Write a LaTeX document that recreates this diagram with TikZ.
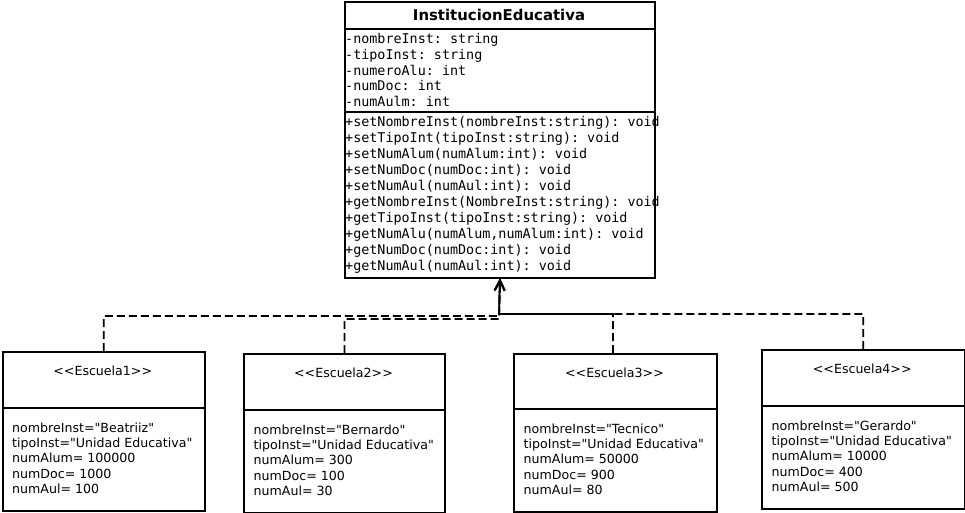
\documentclass[tikz,border=0pt]{standalone}
\usepackage{fontspec}
\setmainfont{DejaVu Sans}[Ligatures=TeXOff]
\setmonofont{DejaVu Sans Mono}[Ligatures=TeXOff]
\usetikzlibrary{arrows.meta}
\newcommand{\escuelabox}[8]{%
  % #1 name, #2 left x, #3 top y, #4 width, #5 height, #6 divider y, #7 stereotype, #8 lines
  \node[umlbox, minimum width=#4pt, minimum height=#5pt] (#1) at (#2,#3) {};
  \draw[divider] (#1.west |- 0,#6) -- (#1.east |- 0,#6);
  \node[stereo] (#1st) at ({#2+#4/2},{#3+24.5}) {#7};
  \foreach \t [count=\i] in {#8}
    \node[objtext] (#1l\i) at ({#2+10.5},{#6+24+15.4*(\i-1)}) {\t};
}
\begin{document}
\begin{tikzpicture}[x=1pt,y=-1pt,
  umlbox/.style={draw, line width=2pt, inner sep=0pt, anchor=north west, fill=white},
  divider/.style={line width=2pt},
  titletext/.style={font=\fontsize{14.9}{16}\selectfont\bfseries, anchor=base, inner sep=0pt},
  monotext/.style={font=\ttfamily\fontsize{13.4}{16}\selectfont, anchor=base west, inner sep=0pt},
  stereo/.style={font=\fontsize{12.6}{15}\selectfont, anchor=base, inner sep=0pt},
  objtext/.style={font=\fontsize{12.6}{15}\selectfont, anchor=base west, inner sep=0pt},
  dep/.style={line width=1.8pt, dash pattern=on 8pt off 4pt, -{Straight Barb[length=10pt,width=10pt,line width=1.8pt]}}
]
\useasboundingbox (0,0) rectangle (965,513);
\fill[white] (0,0) rectangle (965,513);

% main class
\node[umlbox, minimum width=310pt, minimum height=275pt] (main) at (344,1.5) {};
\draw[divider] (main.west |- 0,29) -- (main.east |- 0,29);
\draw[divider] (main.west |- 0,112.5) -- (main.east |- 0,112.5);
\node[titletext] (title) at (499,21) {InstitucionEducativa};
\foreach \t [count=\i] in {-nombreInst: string, -tipoInst: string, -numeroAlu: int, -numDoc: int, -numAulm: int}
  \node[monotext] (attr\i) at (345,{43.3+15.9*(\i-1)}) {\t};
\foreach \t [count=\i] in {+setNombreInst(nombreInst:string): void,
  +setTipoInt(tipoInst:string): void,
  +setNumAlum(numAlum:int): void,
  +setNumDoc(numDoc:int): void,
  +setNumAul(numAul:int): void,
  +getNombreInst(NombreInst:string): void,
  +getTipoInst(tipoInst:string): void,
  {+getNumAlu(numAlum,numAlum:int): void},
  +getNumDoc(numDoc:int): void,
  +getNumAul(numAul:int): void}
  \node[monotext] (meth\i) at (345,{126.7+16*(\i-1)}) {\t};

% objects
\escuelabox{sa}{1.5}{351}{202.5}{159}{408}{<{}<Escuela1>{}>}{nombreInst="Beatriiz", tipoInst="Unidad Educativa", numAlum= 100000, numDoc= 1000, numAul= 100}
\escuelabox{sb}{243}{353}{201}{158.5}{410}{<{}<Escuela2>{}>}{nombreInst="Bernardo", tipoInst="Unidad Educativa", numAlum= 300, numDoc= 100, numAul= 30}
\escuelabox{sc}{513}{353}{203}{158}{409}{<{}<Escuela3>{}>}{nombreInst="Tecnico", tipoInst="Unidad Educativa", numAlum= 50000, numDoc= 900, numAul= 80}
\escuelabox{sd}{761}{349}{202.5}{159}{406}{<{}<Escuela4>{}>}{nombreInst="Gerardo", tipoInst="Unidad Educativa", numAlum= 10000, numDoc= 400, numAul= 500}

% connectors
\coordinate (ja) at (499,316);
\coordinate (jb) at (499,319);
\coordinate (jc) at (499,314);
\draw[dep] (sa.north) |- (ja) -- (main.south);
\draw[dep] (sb.north) |- (jb) -- (main.south);
\draw[dep] ([xshift=-2.5pt]sc.north) |- (jc) -- (main.south);
\draw[dep] (sd.north) |- (jc) -- (main.south);
\end{tikzpicture}
\end{document}
